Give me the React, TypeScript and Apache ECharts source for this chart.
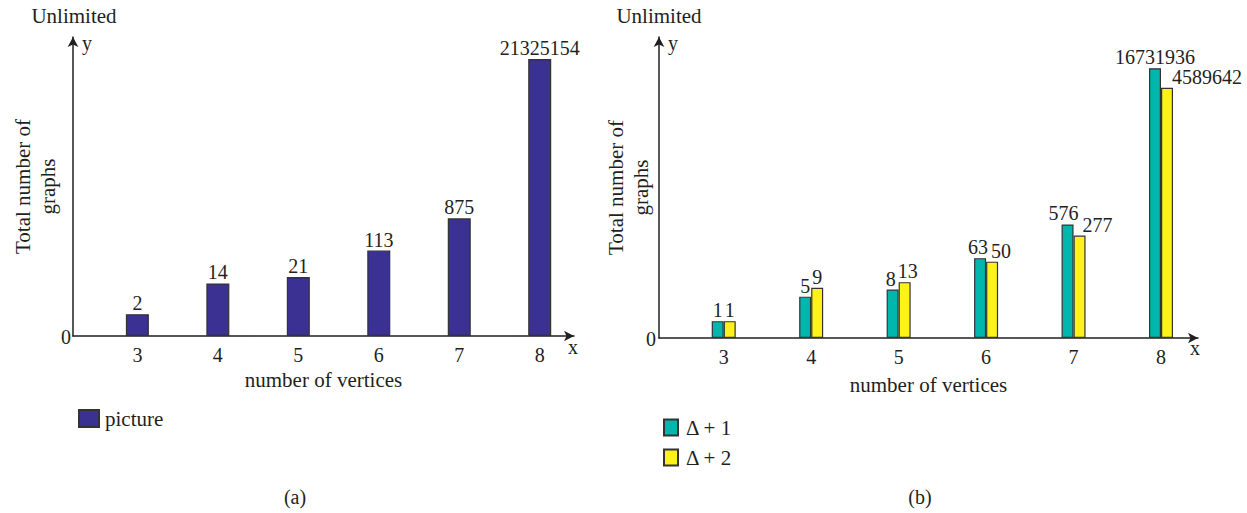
import React, { useEffect, useRef } from "react";
import * as echarts from "echarts";

// Number of vertices on the x axis of both panels
const vertices = [3, 4, 5, 6, 7, 8];
// Panel (a): total number of graphs, "picture"
const pictureCounts = [2, 14, 21, 113, 875, 21325154];
// Panel (b): total number of graphs for Δ + 1 and Δ + 2
const delta1Counts = [1, 5, 8, 63, 576, 16731936];
const delta2Counts = [1, 9, 13, 50, 277, 4589642];

const seriesNames = ["picture", "Δ + 1", "Δ + 2"];

// Horizontal nudges for the paired value labels so neighbours do not collide
const delta1LabelShift = [0, 0, -2, -2, -4, 0];
const delta2LabelShift = [0, 0, 3, 9, 18, 40];

const FONT = "Liberation Serif";
const INK = "#231f20";
const NAVY = "#3a3192";
const TEAL = "#00b6ad";
const YELLOW = "#fff21a";
const EDGE = "#333333";

const NUM_SIZE = 20;
const WORD_SIZE = 21;

const pairs = (values: number[]) => values.map((v, i) => [vertices[i], v]);

const valueLabel = {
  show: true,
  position: "top" as const,
  distance: 1,
  color: INK,
  fontFamily: FONT,
  fontSize: NUM_SIZE,
  formatter: (p: any) => String(p.value[1]),
};

const axisLineStyle = {
  show: true,
  symbol: ["none", "arrow"],
  symbolSize: [8, 10],
  lineStyle: { color: INK, width: 1.5 },
};

const makeXAxis = (gridIndex: number, min: number, max: number, nameGap: number) => ({
  type: "value" as const,
  gridIndex,
  min,
  max,
  name: "number of vertices",
  nameLocation: "middle" as const,
  nameGap,
  nameTextStyle: { color: INK, fontFamily: FONT, fontSize: WORD_SIZE },
  axisLine: axisLineStyle,
  axisTick: { show: false },
  splitLine: { show: false },
  axisLabel: {
    customValues: vertices,
    color: INK,
    fontFamily: FONT,
    fontSize: NUM_SIZE,
    margin: 9,
    formatter: (v: number) => String(v),
  },
});

const makeYAxis = (gridIndex: number, min: number, max: number, nameGap: number) => ({
  type: "log" as const,
  gridIndex,
  min,
  max,
  startValue: min,
  name: "Total number of\ngraphs",
  nameLocation: "middle" as const,
  nameRotate: 90,
  nameGap,
  nameTextStyle: { color: INK, fontFamily: FONT, fontSize: WORD_SIZE, lineHeight: 25, align: "center" },
  axisLine: axisLineStyle,
  axisTick: { show: false },
  axisLabel: { show: false },
  splitLine: { show: false },
});

const text = (x: number, y: number, str: string, size: number, align: string = "center") => ({
  type: "text",
  x,
  y,
  style: {
    text: str,
    fill: INK,
    fontFamily: FONT,
    fontSize: size,
    textAlign: align,
    textVerticalAlign: "middle",
  },
});

export default function App() {
  const ref = useRef<HTMLDivElement>(null);

  useEffect(() => {
    if (!ref.current) return;
    const chart = echarts.init(ref.current, null, { renderer: "svg" });

    chart.setOption({
      animation: false,
      backgroundColor: "#ffffff",
      textStyle: { fontFamily: FONT },
      grid: [
        { left: 73, top: 37, width: 501, height: 299 },
        { left: 659, top: 37, width: 539, height: 301 },
      ],
      xAxis: [makeXAxis(0, 2.2, 8.426, 29), makeXAxis(1, 2.26, 8.423, 36)],
      yAxis: [makeYAxis(0, 0.5, 86300000, 13), makeYAxis(1, 0.33, 130000000, 6)],
      legend: [
        {
          data: [seriesNames[0]],
          left: 73,
          top: 403,
          orient: "vertical",
          icon: "rect",
          itemWidth: 20,
          itemHeight: 17,
          textStyle: { color: INK, fontFamily: FONT, fontSize: WORD_SIZE, padding: [0, 0, 0, 1] },
        },
        {
          data: [seriesNames[1], seriesNames[2]],
          left: 658,
          top: 412,
          orient: "vertical",
          icon: "rect",
          itemWidth: 14,
          itemHeight: 16,
          itemGap: 9,
          textStyle: { color: INK, fontFamily: FONT, fontSize: WORD_SIZE, padding: [0, 0, 0, 3] },
        },
      ],
      series: [
        {
          name: seriesNames[0],
          type: "bar",
          xAxisIndex: 0,
          yAxisIndex: 0,
          barWidth: 23,
          data: pairs(pictureCounts),
          itemStyle: { color: NAVY, borderColor: EDGE, borderWidth: 1.2 },
          label: valueLabel,
        },
        {
          name: seriesNames[1],
          type: "bar",
          xAxisIndex: 1,
          yAxisIndex: 1,
          barWidth: 12,
          barGap: "0%",
          data: pairs(delta1Counts).map((d, i) => ({
            value: d,
            label: { offset: [delta1LabelShift[i], 0] },
          })),
          itemStyle: { color: TEAL, borderColor: EDGE, borderWidth: 1.2 },
          label: valueLabel,
        },
        {
          name: seriesNames[2],
          type: "bar",
          xAxisIndex: 1,
          yAxisIndex: 1,
          barWidth: 12,
          barGap: "0%",
          data: pairs(delta2Counts).map((d, i) => ({
            value: d,
            label: { offset: [delta2LabelShift[i], 0] },
          })),
          itemStyle: { color: YELLOW, borderColor: EDGE, borderWidth: 1.2 },
          label: valueLabel,
        },
      ],
      graphic: [
        text(74, 16, "Unlimited", WORD_SIZE),
        text(659, 16, "Unlimited", WORD_SIZE),
        text(82, 43, "y", NUM_SIZE, "left"),
        text(668, 43, "y", NUM_SIZE, "left"),
        text(568, 347, "x", NUM_SIZE, "left"),
        text(1190, 348, "x", NUM_SIZE, "left"),
        text(71, 337, "0", NUM_SIZE, "right"),
        text(656, 339, "0", NUM_SIZE, "right"),
        text(295, 497, "(a)", NUM_SIZE),
        text(920, 497, "(b)", NUM_SIZE),
      ],
    });

    return () => chart.dispose();
  }, []);

  return (
    <div
      ref={ref}
      style={{ position: "fixed", left: 0, top: 0, width: 1247, height: 513, background: "#fff" }}
    />
  );
}
